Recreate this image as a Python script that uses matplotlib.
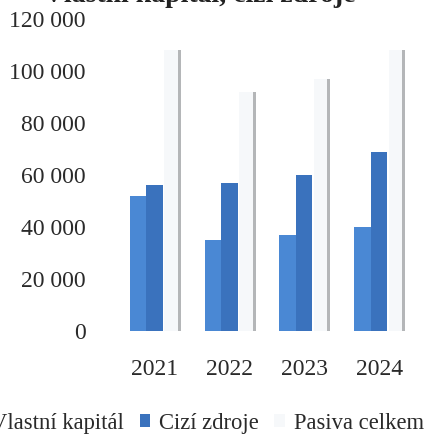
import matplotlib.pyplot as plt
import numpy as np

years = ['2021', '2022', '2023', '2024']
vlastni_kapital = [52000, 35000, 37000, 40000]
cizi_zdroje = [56000, 57000, 60000, 69000]
pasiva_celkem = [108000, 92000, 97000, 108000]
yticks = [0, 20000, 40000, 60000, 80000, 100000, 120000]

plt.rcParams['font.family'] = ['Liberation Serif', 'DejaVu Serif']

fig = plt.figure(figsize=(4.25, 4.37), dpi=100)
ax = fig.add_axes([108 / 425, 1 - 331 / 437, 316 / 425, 312 / 437])

X = np.arange(len(years))
w = 0.22
ax.bar(X - w, vlastni_kapital, width=w, color='#4a88d4', label='Vlastní kapitál')
ax.bar(X, cizi_zdroje, width=w, color='#3a72bd', label='Cizí zdroje')
ax.bar(X + w + 0.02, pasiva_celkem, width=w, color='#f6f8fa', label='Pasiva celkem')
# grey side of the pale 3D column
ax.bar(X + 1.5 * w, pasiva_celkem, width=0.04, color='#b4b6b8')

ax.set_xlim(-0.62, 3.6)
ax.set_ylim(0, 120000)
ax.set_xticks(X)
ax.set_xticklabels(years)
ax.set_yticks(yticks)
ax.set_yticklabels([f"{v:,}".replace(',', ' ') for v in yticks])
ax.tick_params(axis='both', length=0, labelsize=17, colors='#2a2a2a')
ax.tick_params(axis='y', pad=16)
ax.tick_params(axis='x', pad=20)
for s in ax.spines.values():
    s.set_visible(False)

fig.text(0.47, 0.995, 'Vlastní kapitál, cizí zdroje', ha='center', va='baseline',
         fontsize=20, fontweight='bold', color='#222222')

fig.legend(loc='center', bbox_to_anchor=(0.465, 0.032), ncol=3, frameon=False,
           fontsize=16.3, handlelength=0.45, handleheight=0.45, handletextpad=0.4,
           columnspacing=0.7, labelcolor='#2a2a2a')

fig.savefig('out.png', dpi=100)
